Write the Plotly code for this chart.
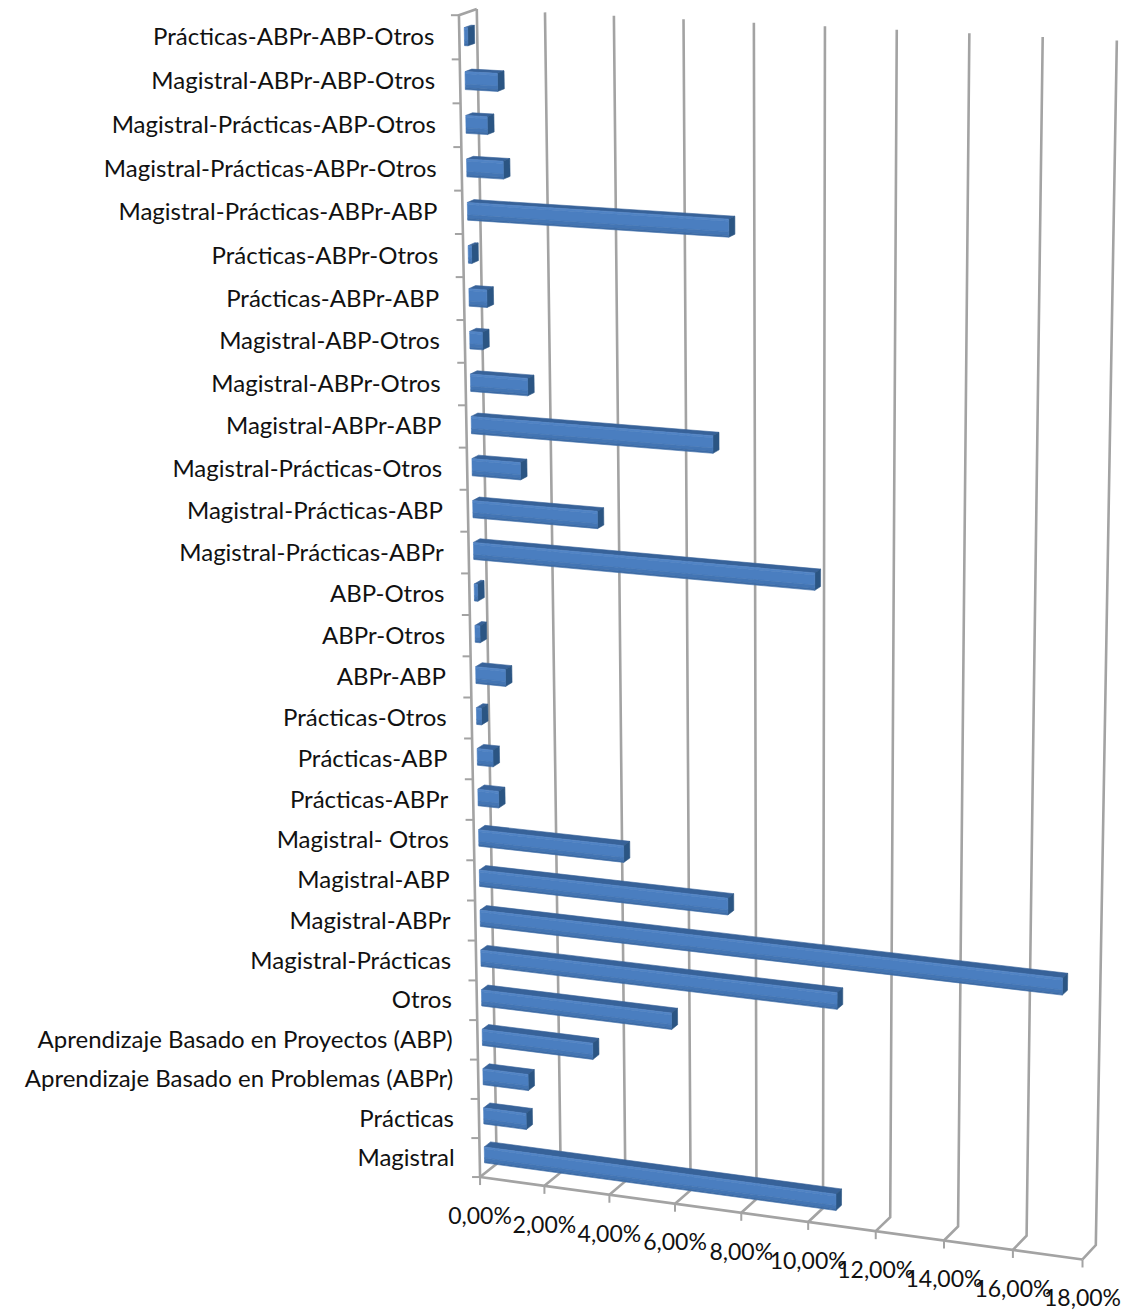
import numpy as np
import plotly.graph_objects as go

categories = [
    "Magistral", "Prácticas", "Aprendizaje Basado en Problemas (ABPr)",
    "Aprendizaje Basado en Proyectos (ABP)", "Otros", "Magistral-Prácticas",
    "Magistral-ABPr", "Magistral-ABP", "Magistral- Otros", "Prácticas-ABPr",
    "Prácticas-ABP", "Prácticas-Otros", "ABPr-ABP", "ABPr-Otros", "ABP-Otros",
    "Magistral-Prácticas-ABPr", "Magistral-Prácticas-ABP",
    "Magistral-Prácticas-Otros", "Magistral-ABPr-ABP", "Magistral-ABPr-Otros",
    "Magistral-ABP-Otros", "Prácticas-ABPr-ABP", "Prácticas-ABPr-Otros",
    "Magistral-Prácticas-ABPr-ABP", "Magistral-Prácticas-ABPr-Otros",
    "Magistral-Prácticas-ABP-Otros", "Magistral-ABPr-ABP-Otros",
    "Prácticas-ABPr-ABP-Otros",
]
percentages = [
    10.7, 1.32, 1.4, 3.4, 5.8, 10.72, 17.2, 7.5, 4.4, 0.63, 0.48, 0.15, 0.9, 0.15,
    0.1, 10.05, 3.72, 1.45, 7.12, 1.7, 0.38, 0.53, 0.1, 7.6, 1.08, 0.63, 0.95, 0.1,
]
value_ticks = [0, 2, 4, 6, 8, 10, 12, 14, 16, 18]
value_tick_labels = ["0,00%", "2,00%", "4,00%", "6,00%", "8,00%", "10,00%",
                     "12,00%", "14,00%", "16,00%", "18,00%"]

WIDTH, HEIGHT = 1133, 1315
VMAX = value_ticks[-1]
NCAT = len(categories)

# Perspective camera for the 3-D box: (value, category, depth) -> page pixel.
anchors = [
    ((0, 0, 0), (480.5, 1177)), ((10, 0, 0), (808, 1222.7)), ((18, 0, 0), (1082.7, 1259)),
    ((0, 0, 1), (496, 1163)), ((10, 0, 1), (822.7, 1210)), ((18, 0, 1), (1096, 1244)),
    ((0, 28, 0), (458, 15)), ((0, 23, 0), (463, 234.3)), ((0, 1, 0), (479.7, 1137.7)),
    ((0, 28, 1), (477.7, 9)), ((10, 28, 1), (825, 26)), ((18, 28, 1), (1116.7, 40.7)),
]
rows = []
for (a, b, c), (px, py) in anchors:
    p = [a, b, c, 1]
    rows.append(p + [0, 0, 0, 0] + [-px * k for k in p])
    rows.append([0, 0, 0, 0] + p + [-py * k for k in p])
CAMERA = np.linalg.svd(np.array(rows, float))[2][-1].reshape(3, 4)


def project(v, c, d):
    h = CAMERA @ np.array([v, c, d, 1.0])
    return h[0] / h[2], h[1] / h[2]


def polyline(points):
    pts = [project(*p) for p in points]
    return [p[0] for p in pts], [p[1] for p in pts]


fig = go.Figure()
GRID = "#a3a3a3"


def add_line(xs, ys, width=2.6, color=GRID):
    fig.add_trace(go.Scatter(x=xs, y=ys, mode="lines", hoverinfo="skip",
                             line=dict(color=color, width=width)))


def add_face(points, color):
    xs, ys = polyline(points)
    fig.add_trace(go.Scatter(x=xs + xs[:1], y=ys + ys[:1], mode="lines", fill="toself",
                             fillcolor=color, hoverinfo="skip",
                             line=dict(color=color, width=0.6)))


# Walls and floor
for v in value_ticks:
    add_line(*polyline([(v, 0, 0), (v, 0, 1), (v, NCAT, 1)]))
add_line(*polyline([(0, 0, 0), (VMAX, 0, 0)]))
add_line(*polyline([(0, 0, 0), (0, NCAT, 0), (0, NCAT, 1)]))

# Tick marks
for v in value_ticks:
    x, y = project(v, 0, 0)
    add_line([x, x], [y, y + 8], width=2)
for c in range(NCAT + 1):
    x, y = project(0, c, 0)
    add_line([x - 8, x], [y, y], width=2)

# Bars: side and top faces first, then the shaded front face in bands
D0, D1 = 0.28, 0.66
C0, C1 = 0.27, 0.68
BANDS = [(0.0, 0.12, "#5285c6"), (0.12, 0.7, "#4a7ec0"), (0.7, 0.9, "#4375b4"), (0.9, 1.0, "#3c6ba6")]
for i, val in enumerate(percentages):
    lo, hi = i + C0, i + C1
    add_face([(0, hi, D0), (val, hi, D0), (val, hi, D1), (0, hi, D1)], "#376299")
    add_face([(val, lo, D0), (val, hi, D0), (val, hi, D1), (val, lo, D1)], "#2b5583")
    for t0, t1, color in BANDS:
        top, bottom = hi - (hi - lo) * t0, hi - (hi - lo) * t1
        add_face([(0, bottom, D0), (val, bottom, D0), (val, top, D0), (0, top, D0)], color)

# Category labels, right-aligned against the left wall
label_pts = [project(0, i + 0.5, 0) for i in range(NCAT)]
fig.add_trace(go.Scatter(
    x=[p[0] - 25 for p in label_pts], y=[p[1] + 2 for p in label_pts],
    text=categories, mode="text", textposition="middle left", hoverinfo="skip",
    textfont=dict(family="Lato", size=24, color="#111111"),
))

# Value labels below the front floor edge
tick_pts = [project(v, 0, 0) for v in value_ticks]
fig.add_trace(go.Scatter(
    x=[p[0] for p in tick_pts], y=[p[1] + 41 for p in tick_pts],
    text=value_tick_labels, mode="text", textposition="middle center", hoverinfo="skip",
    textfont=dict(family="Lato", size=23, color="#111111"),
))

fig.update_layout(
    width=WIDTH, height=HEIGHT, margin=dict(l=0, r=0, t=0, b=0),
    paper_bgcolor="white", plot_bgcolor="white", showlegend=False,
    xaxis=dict(range=[0, WIDTH], visible=False, fixedrange=True),
    yaxis=dict(range=[HEIGHT, 0], visible=False, fixedrange=True),
)
fig.write_html("out.html", config=dict(displayModeBar=False))
